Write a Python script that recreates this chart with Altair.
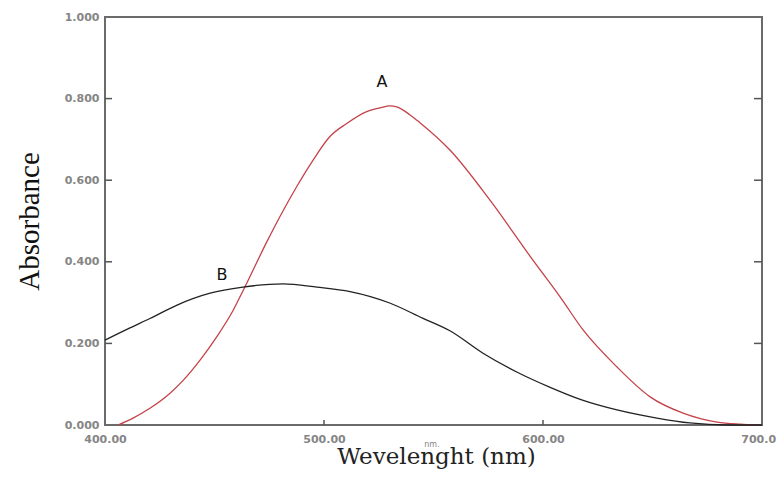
import altair as alt
import pandas as pd

# Curve A (red)
nm_A = [405.9, 412.8, 420.5, 429.7, 435.8, 443.4, 451.0, 458.6, 463.2, 474.0, 479.9,
        487.5, 495.1, 502.7, 510.4, 519.5, 526.0, 530.1, 533.2, 539.3, 543.8, 557.5,
        575.8, 595.4, 607.8, 618.3, 633.8, 648.9, 664.0, 679.5, 690.0, 698.0]
abs_A = [0.000, 0.017, 0.041, 0.078, 0.110, 0.159, 0.216, 0.282, 0.331, 0.450, 0.511,
         0.584, 0.650, 0.707, 0.739, 0.768, 0.778, 0.782, 0.780, 0.760, 0.741, 0.674,
         0.551, 0.404, 0.314, 0.233, 0.142, 0.069, 0.029, 0.007, 0.002, 0.000]

# Curve B (black)
nm_B = [400.0, 411.4, 420.5, 432.9, 448.0, 463.0, 481.3, 496.8, 511.9, 530.0, 545.0,
        557.5, 572.6, 588.0, 603.0, 618.0, 633.8, 652.0, 667.0, 684.0, 700.0]
abs_B = [0.208, 0.238, 0.261, 0.294, 0.323, 0.338, 0.346, 0.338, 0.327, 0.299, 0.262,
         0.231, 0.176, 0.130, 0.093, 0.061, 0.037, 0.017, 0.005, 0.000, 0.000]

x_ticks = [400, 500, 600, 700]
y_ticks = [0.0, 0.2, 0.4, 0.6, 0.8, 1.0]
inner_y_ticks = [0.2, 0.4, 0.6, 0.8]
inner_x_ticks = [500, 600]

series_names = ["A", "B"]
label_nm = [526.5, 453.4]
label_abs = [0.841, 0.368]

lines_df = pd.concat([
    pd.DataFrame({"nm": nm_A, "abs": abs_A, "series": "A"}),
    pd.DataFrame({"nm": nm_B, "abs": abs_B, "series": "B"}),
])
labels_df = pd.DataFrame({"nm": label_nm, "abs": label_abs, "series": series_names})
ytick_df = pd.DataFrame({"abs": inner_y_ticks})
xtick_df = pd.DataFrame({"nm": inner_x_ticks})

W, H = 657, 408
xscale = alt.Scale(domain=[400, 700], nice=False, zero=False)
yscale = alt.Scale(domain=[0, 1], nice=False)

label_style = dict(labelFont="DejaVu Sans", labelFontSize=11, labelFontWeight="bold",
                   labelColor="#858585", ticks=False, tickSize=0, domain=False, grid=False)

x_enc = alt.X("nm:Q", scale=xscale, axis=alt.Axis(
    values=x_ticks, format=".2f", title="Wevelenght (nm)", labelPadding=8,
    titleFont="DejaVu Serif", titleFontSize=23, titleFontWeight="normal", titleColor="#222222",
    titleX=331, titleY=38, titleBaseline="alphabetic", titleAlign="center",
    labelFlush=False, labelOverlap=False, **label_style))
y_enc = alt.Y("abs:Q", scale=yscale, axis=alt.Axis(
    values=y_ticks, format=".3f", title="Absorbance", labelPadding=6,
    titleFont="Liberation Serif", titleFontSize=29, titleFontWeight="normal", titleColor="#111111",
    titleX=-76, titleY=204, titleAngle=270, titleBaseline="middle", titleAlign="center",
    labelFlush=False, labelOverlap=False, **label_style))

x_plain = alt.X("nm:Q", scale=xscale)
y_plain = alt.Y("abs:Q", scale=yscale)

lines = alt.Chart(lines_df).mark_line(strokeWidth=1.3, interpolate="monotone").encode(
    x=x_enc, y=y_enc,
    color=alt.Color("series:N", scale=alt.Scale(domain=series_names, range=["#c4434a", "#222222"]), legend=None),
    detail="series:N",
)

labels = alt.Chart(labels_df).mark_text(font="DejaVu Sans", fontSize=16, color="#111111",
                                        align="center", baseline="middle").encode(
    x=x_plain, y=y_plain, text="series:N",
)

left_ticks = alt.Chart(ytick_df).mark_rule(color="#555555", strokeWidth=1.5).encode(
    y=y_plain, x=alt.value(0), x2=alt.value(7))
right_ticks = alt.Chart(ytick_df).mark_rule(color="#555555", strokeWidth=1.5).encode(
    y=y_plain, x=alt.value(W - 8), x2=alt.value(W))
bottom_ticks = alt.Chart(xtick_df).mark_rule(color="#555555", strokeWidth=1.5).encode(
    x=x_plain, y=alt.value(H), y2=alt.value(H - 5))

unit_text = alt.Chart(pd.DataFrame({"t": ["nm."]})).mark_text(
    font="DejaVu Sans", fontSize=8, color="#858585", align="center", baseline="middle").encode(
    text="t:N", x=alt.value(327), y=alt.value(428))

chart = alt.layer(lines, labels, left_ticks, right_ticks, bottom_ticks, unit_text).properties(
    width=W, height=H,
    autosize=alt.AutoSizeParams(type="none"),
    padding={"left": 97, "top": 9, "right": 14, "bottom": 47},
    background="white",
).configure_view(stroke="#6b6b6b", strokeWidth=2)

chart.save("out.html", embed_options={"renderer": "svg", "actions": False})
